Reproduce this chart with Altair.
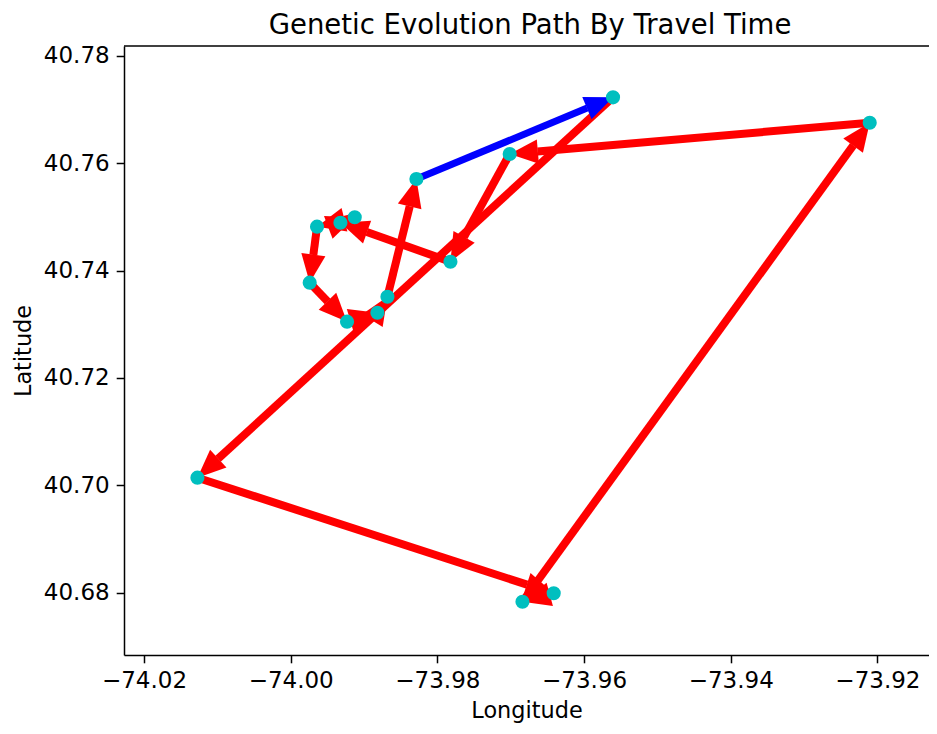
import math
import altair as alt
import pandas as pd

# Stops along the path, in travel order (the last leg returns to the first stop)
lons = [-73.95605, -74.01272, -73.96414, -73.96840, -73.92105, -73.97014, -73.97822,
        -73.99322, -73.99127, -73.99641, -73.99741, -73.99232, -73.98818, -73.98681,
        -73.98286]
lats = [40.77225, 40.70142, 40.67989, 40.67832, 40.76752, 40.76169, 40.74164,
        40.74890, 40.74991, 40.74816, 40.73773, 40.73047, 40.73214, 40.73512,
        40.75704]

x_ticks = [-74.02, -74.00, -73.98, -73.96, -73.94, -73.92]
y_ticks = [40.68, 40.70, 40.72, 40.74, 40.76, 40.78]
title_text = "Genetic Evolution Path By Travel Time"

W, H = 805, 609
PX_PER_LON = 7334.0
PX_PER_LAT = 5370.0
X_DOMAIN = [-74.02273, -74.02273 + W / PX_PER_LON]
Y_DOMAIN = [40.6684, 40.6684 + H / PX_PER_LAT]
sx = W / (X_DOMAIN[1] - X_DOMAIN[0])
sy = H / (Y_DOMAIN[1] - Y_DOMAIN[0])

HEAD_LEN = 28.0
ARROW_PATH = "M0,0 L0.857,2 L-0.857,2 Z"

n = len(lons)
rows = []
for i in range(n):
    j = (i + 1) % n
    dlon = lons[j] - lons[i]
    dlat = lats[j] - lats[i]
    dxp, dyp = dlon * sx, dlat * sy
    L = math.hypot(dxp, dyp)
    ratio = max(L - HEAD_LEN, 0.0) / L if L > 0 else 0.0
    ang = math.degrees(math.atan2(dxp, dyp)) % 360
    last = (i == n - 1)
    rows.append({
        "lon": lons[i], "lat": lats[i],
        "lon_e": lons[i] + dlon * ratio, "lat_e": lats[i] + dlat * ratio,
        "lon_t": lons[j], "lat_t": lats[j],
        "angle": ang,
        "color": "#0000FF" if last else "#FF0000",
        "w": 7 if last else 8,
        "order": i,
    })
seg = pd.DataFrame(rows)
pts = pd.DataFrame({"lon": lons, "lat": lats})

xscale = alt.Scale(domain=X_DOMAIN, nice=False, zero=False)
yscale = alt.Scale(domain=Y_DOMAIN, nice=False, zero=False)
xaxis = alt.Axis(title="Longitude", values=x_ticks, format=".2f", grid=False, titlePadding=7)
yaxis = alt.Axis(title="Latitude", values=y_ticks, format=".2f", grid=False, titlePadding=8)


def X(field):
    return alt.X(f"{field}:Q", scale=xscale, axis=xaxis)


def Y(field):
    return alt.Y(f"{field}:Q", scale=yscale, axis=yaxis)


shafts = alt.Chart(seg).mark_rule(strokeCap="butt").encode(
    x=X("lon"), y=Y("lat"),
    x2="lon_e:Q", y2="lat_e:Q",
    color=alt.Color("color:N", scale=None),
    strokeWidth=alt.StrokeWidth("w:Q", scale=None),
    order="order:Q",
)

heads = alt.Chart(seg).mark_point(shape=ARROW_PATH, filled=True, size=800, opacity=1,
                                  strokeWidth=0).encode(
    x=X("lon_t"), y=Y("lat_t"),
    angle=alt.Angle("angle:Q", scale=None),
    color=alt.Color("color:N", scale=None),
    order="order:Q",
)

dots = alt.Chart(pts).mark_circle(size=200, color="#00BFBF", opacity=1).encode(
    x=X("lon"), y=Y("lat"),
)

top_spine = alt.Chart(pd.DataFrame({"a": [0]})).mark_rule(color="black", strokeWidth=1.5).encode(
    x=alt.value(0), x2=alt.value(W), y=alt.value(0)
)

title = alt.Chart(pd.DataFrame({"t": [title_text]})).mark_text(
    fontSize=27.5, font="DejaVu Sans", color="black", baseline="alphabetic", align="center"
).encode(text="t:N", x=alt.value((W + 7) / 2), y=alt.value(-12))

chart = alt.layer(shafts, heads, dots, top_spine, title).properties(
    width=W, height=H,
    autosize=alt.AutoSizeParams(type="none"),
    padding={"left": 116, "top": 38, "right": 0, "bottom": 72},
).configure_view(stroke=None).configure_axis(
    domainColor="black", domainWidth=1.5, tickColor="black", tickWidth=1.5,
    tickSize=7.8, labelFontSize=23, labelFont="DejaVu Sans", labelColor="black",
    labelPadding=7, titleFont="DejaVu Sans", titleFontSize=22.4,
    titleFontWeight="normal", titleColor="black",
)

chart.save("out.html", embed_options={"renderer": "svg", "actions": False})
